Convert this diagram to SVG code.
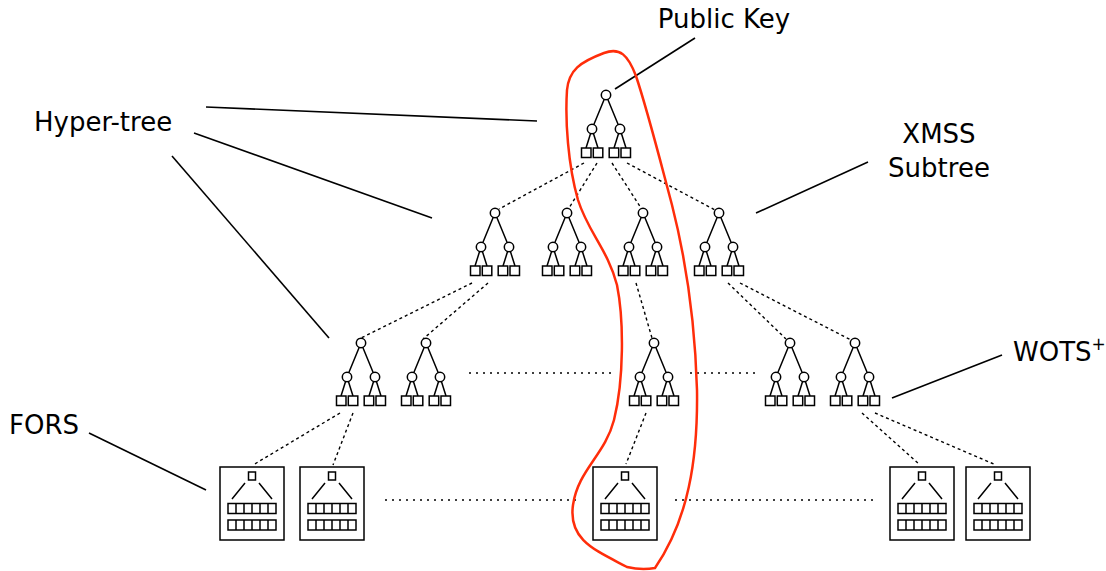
<svg xmlns="http://www.w3.org/2000/svg" xmlns:xlink="http://www.w3.org/1999/xlink" width="1106" height="571" viewBox="0 0 1106 571">
  <style>
    .edge { stroke: #000; stroke-width: 1.5; fill: none; }
    .node { stroke: #000; stroke-width: 1.5; fill: #fff; }
    .dot { stroke: #000; stroke-width: 1.4; stroke-dasharray: 3 3; fill: none; }
    .gap { stroke: #000; stroke-width: 1.4; stroke-dasharray: 2 5; fill: none; }
    .lead { stroke: #000; stroke-width: 1.6; fill: none; }
    .label { font-family: "DejaVu Sans", Verdana, sans-serif; font-size: 26px; fill: #000; }
    .path { stroke: #ff2d0a; stroke-width: 2.5; fill: none; }
  </style>
  <defs>
    <!-- XMSS subtree: root at origin, two inner nodes, four leaves -->
    <g id="xmss">
      <path class="edge" d="M0 0 L-14 34 M0 0 L14 34 M-14 34 L-20 53 M-14 34 L-8 53 M14 34 L8 53 M14 34 L20 53"/>
      <circle class="node" cx="0" cy="0" r="4.7"/>
      <circle class="node" cx="-14" cy="34" r="4.7"/>
      <circle class="node" cx="14" cy="34" r="4.7"/>
      <rect class="node" x="-24.5" y="53" width="9.5" height="9.5"/>
      <rect class="node" x="-12.7" y="53" width="9.5" height="9.5"/>
      <rect class="node" x="3.2" y="53" width="9.5" height="9.5"/>
      <rect class="node" x="15" y="53" width="9.5" height="9.5"/>
    </g>
    <!-- FORS instance: framed box with root and two leaf rows -->
    <g id="fors">
      <rect class="node" x="0" y="0" width="64" height="73"/>
      <rect class="node" x="28.5" y="5" width="7" height="8"/>
      <path class="edge" d="M12 32 L25 16 M39 16 L52 32"/>
      <rect class="node" x="8" y="36.5" width="48" height="10"/>
      <rect class="node" x="8" y="53" width="48" height="10"/>
      <path class="edge" d="M16 36.5 V46.5 M24 36.5 V46.5 M32 36.5 V46.5 M40 36.5 V46.5 M48 36.5 V46.5 M16 53 V63 M24 53 V63 M32 53 V63 M40 53 V63 M48 53 V63"/>
    </g>
  </defs>

  <!-- connectors -->
  <g id="connectors">
    <path class="dot" d="M584 163 L499 209"/>
    <path class="dot" d="M597 163 L569 208"/>
    <path class="dot" d="M612 163 L641 208"/>
    <path class="dot" d="M627 163 L715 210"/>
    <path class="dot" d="M472 283 L357 340"/>
    <path class="dot" d="M488 283 L423 339"/>
    <path class="dot" d="M636 283 L652 338"/>
    <path class="dot" d="M728 283 L786 339"/>
    <path class="dot" d="M740 283 L851 340"/>
    <path class="dot" d="M340 413 L253 465"/>
    <path class="dot" d="M353 413 L333 465"/>
    <path class="dot" d="M646 413 L626 464"/>
    <path class="dot" d="M862 413 L920 465"/>
    <path class="dot" d="M875 413 L996 465"/>
    <path class="gap" d="M469 373 H612 M690 373 H755"/>
    <path class="gap" d="M385 500 H580 M675 500 H873"/>
    <path class="lead" d="M615 89 L695 38"/>
    <path class="lead" d="M206 107 L537 121"/>
    <path class="lead" d="M194 133 L432 218"/>
    <path class="lead" d="M172 156 L329 338"/>
    <path class="lead" d="M868 162 L756 213"/>
    <path class="lead" d="M1002 355 L892 398"/>
    <path class="lead" d="M89 433 L206 490"/>
  </g>

  <!-- hyper-tree layers -->
  <g id="tree-top"><use xlink:href="#xmss" x="606" y="95"/></g>
  <g id="tree-l1-a"><use xlink:href="#xmss" x="495" y="213"/></g>
  <g id="tree-l1-b"><use xlink:href="#xmss" x="567" y="213"/></g>
  <g id="tree-l1-c"><use xlink:href="#xmss" x="643" y="213"/></g>
  <g id="tree-l1-d"><use xlink:href="#xmss" x="719" y="213"/></g>
  <g id="tree-l2-a"><use xlink:href="#xmss" x="361" y="343"/></g>
  <g id="tree-l2-b"><use xlink:href="#xmss" x="426" y="343"/></g>
  <g id="tree-l2-c"><use xlink:href="#xmss" x="654" y="343"/></g>
  <g id="tree-l2-d"><use xlink:href="#xmss" x="790" y="343"/></g>
  <g id="tree-l2-e"><use xlink:href="#xmss" x="855" y="343"/></g>

  <!-- FORS layer -->
  <g id="fors-a"><use xlink:href="#fors" x="220" y="467"/></g>
  <g id="fors-b"><use xlink:href="#fors" x="300" y="467"/></g>
  <g id="fors-c"><use xlink:href="#fors" x="593" y="467"/></g>
  <g id="fors-d"><use xlink:href="#fors" x="890" y="467"/></g>
  <g id="fors-e"><use xlink:href="#fors" x="966" y="467"/></g>

  <!-- authentication path outline -->
  <g id="auth-path">
    <path class="path" d="M604 53 C620 47 628 55 636 76 C648 112 660 160 672 205 C686 260 695 320 697 390 C698 460 688 520 655 568 C645 570 635 569 627 567 C595 550 568 540 573 505 C578 470 605 455 614 420 C624 380 624 320 617 285 C608 250 588 232 578 200 C568 165 565 120 567 90 C569 70 580 62 604 53 Z"/>
  </g>

  <!-- labels -->
  <g id="label-pk"><text class="label" x="724" y="28" text-anchor="middle">Public Key</text></g>
  <g id="label-ht"><text class="label" x="34" y="131">Hyper-tree</text></g>
  <g id="label-xmss"><text class="label" x="939" y="143" text-anchor="middle">XMSS</text><text class="label" x="939" y="177" text-anchor="middle">Subtree</text></g>
  <g id="label-wots"><text class="label" x="1013" y="361">WOTS<tspan font-size="17" dy="-11">+</tspan></text></g>
  <g id="label-fors"><text class="label" x="9" y="434">FORS</text></g>
</svg>
